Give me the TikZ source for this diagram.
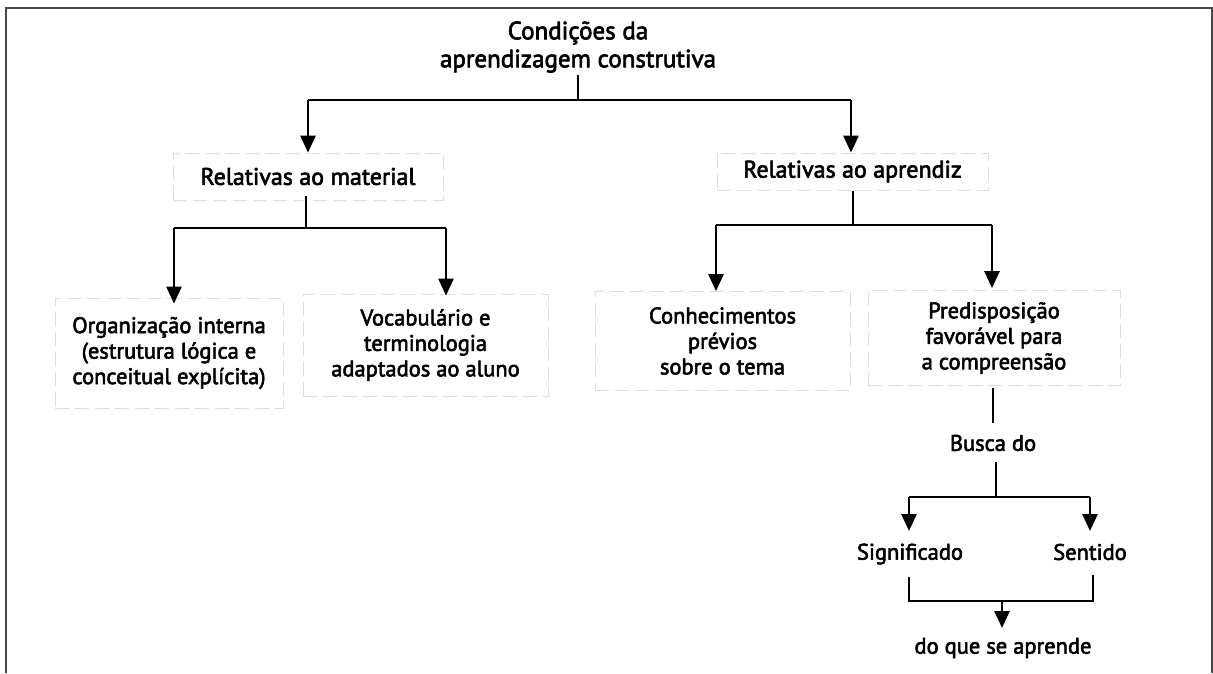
\documentclass[tikz,border=0pt]{standalone}
\usepackage{fontspec}
\setmainfont{PT Sans}
\newfontfamily\medfont{PT Sans}[FakeBold=2.6]
\usetikzlibrary{arrows.meta}
\tikzset{
  lbl/.style={font=\medfont\fontsize{22.5}{25.5}\selectfont, align=center, inner sep=0pt},
  biglbl/.style={lbl, font=\medfont\fontsize{25}{28}\selectfont},
  midlbl/.style={lbl, font=\medfont\fontsize{24}{27}\selectfont},
  faintbox/.style={draw=black!13, dashed, dash pattern=on 14pt off 6pt, line width=0.8pt},
  conn/.style={line width=2.8pt, black},
  arr/.style={conn, -{Triangle[length=17pt,width=15pt]}},
  frameline/.style={line width=2.2pt, black!72}
}
\begin{document}
\begin{tikzpicture}[x=1pt,y=-1pt]
\useasboundingbox (0,0) rectangle (1213,673);
\fill[white] (0,0) rectangle (1213,673);
\draw[frameline] (6,673) -- (6,8) -- (1212,8) -- (1212,673);

% title
\node[biglbl] (title) at (578,47) {Condições da\\aprendizagem construtiva};

% level 1 boxes
\node[midlbl, faintbox, minimum width=270pt, minimum height=47pt] (mat) at (308,176.5) {Relativas ao material};
\node[midlbl, faintbox, minimum width=271pt, minimum height=37pt] (apr) at (852.5,171.5) {Relativas ao aprendiz};

% level 2 boxes
\node[lbl, faintbox, minimum width=228pt, minimum height=110pt] (org) at (169,353) {Organização interna\\(estrutura lógica e\\conceitual explícita)};
\node[lbl, faintbox, minimum width=245pt, minimum height=102pt] (voc) at (425.5,345) {Vocabulário e\\terminologia\\adaptados ao aluno};
\node[lbl, faintbox, minimum width=255pt, minimum height=99pt] (con) at (722.5,341) {Conhecimentos\\prévios\\sobre o tema};
\node[lbl, faintbox, minimum width=252pt, minimum height=95pt] (pre) at (994,338) {Predisposição\\favorável para\\a compreensão};

% lower chain
\node[lbl] (busca) at (993,443) {Busca do};
\node[lbl] (sig) at (910,554) {Significado};
\node[lbl] (sen) at (1090,552) {Sentido};
\node[lbl] (dq) at (1003,648) {do que se aprende};

% junction coordinates
\coordinate (t0) at (578,75);
\coordinate (tj) at (578,100);
\coordinate (tl) at (308,100);
\coordinate (tr) at (851,100);

\coordinate (m0) at (306,196);
\coordinate (mj) at (306,228);
\coordinate (ml) at (174,228);
\coordinate (mr) at (446,228);

\coordinate (a0) at (853,191);
\coordinate (aj) at (853,225);
\coordinate (al) at (716,225);
\coordinate (ar) at (992,225);

\coordinate (p0) at (993,388);
\coordinate (p1) at (993,423);

\coordinate (b0) at (996,462);
\coordinate (bj) at (996,497);
\coordinate (bl) at (909,497);
\coordinate (br) at (1090,497);

\coordinate (s0) at (909,577);
\coordinate (sl) at (909,601);
\coordinate (e0) at (1093,575);
\coordinate (er) at (1093,601);
\coordinate (dj) at (1002,601);

% connectors
\draw[conn] (t0) -- (tj);
\draw[conn] (tl) -- (tr);
\draw[arr] (tl) -- (tl |- mat.north);
\draw[arr] (tr) -- (tr |- apr.north);

\draw[conn] (m0) -- (mj);
\draw[conn] (ml) -- (mr);
\draw[arr] (ml) -- ([yshift=-6pt]ml |- org.north);
\draw[arr] (mr) -- ([yshift=-2pt]mr |- voc.north);

\draw[conn] (a0) -- (aj);
\draw[conn] (al) -- (ar);
\draw[arr] (al) -- (al |- con.north);
\draw[arr] (ar) -- ([yshift=2pt]ar |- pre.north);

\draw[conn] (p0) -- (p1);

\draw[conn] (b0) -- (bj);
\draw[conn] (bl) -- (br);
\draw[arr] (bl) -- (bl |- 0,531);
\draw[arr] (br) -- (br |- 0,531);

\draw[conn] (s0) -- (sl) -- (er) -- (e0);
\draw[arr] (dj) -- (dj |- 0,628);
\end{tikzpicture}
\end{document}
